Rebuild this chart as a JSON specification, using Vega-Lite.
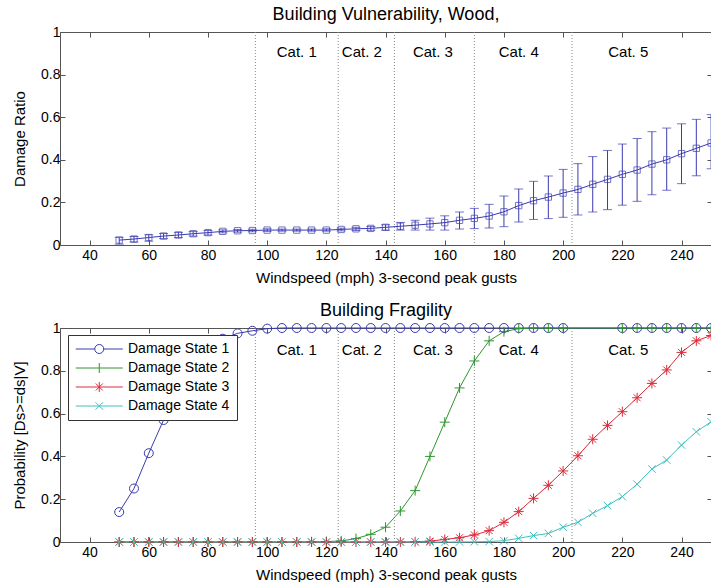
{
  "$schema": "https://vega.github.io/schema/vega-lite/v6.json",
  "padding": {"left": 12, "top": 6, "right": 0, "bottom": 0},
  "bounds": "flush",
  "spacing": 83,
  "resolve": {"scale": {"color": "independent"}, "legend": {"color": "independent"}},
  "config": {
    "font": "Liberation Sans",
    "view": {"stroke": null},
    "axis": {
      "grid": false, "domainColor": "#555", "tickColor": "#555", "tickSize": -5,
      "labelFont": "Liberation Sans", "labelFontSize": 14, "labelColor": "#000",
      "titleFont": "Liberation Sans", "titleFontSize": 15, "titleFontWeight": "normal", "titleColor": "#000"
    },
    "title": {"font": "Liberation Sans", "fontSize": 18, "fontWeight": "normal", "color": "#000", "offset": 1}
  },
  "datasets": {
    "cats": [{"b": 96}, {"b": 124}, {"b": 143}, {"b": 170}, {"b": 203}],
    "catlabels": [
      {"c": 110, "t": "Cat. 1"}, {"c": 132, "t": "Cat. 2"}, {"c": 156, "t": "Cat. 3"},
      {"c": 185, "t": "Cat. 4"}, {"c": 222, "t": "Cat. 5"}
    ],
    "vuln": [
      {"w": 50, "dr": 0.023, "lo": 0.004, "hi": 0.036},
      {"w": 55, "dr": 0.028, "lo": 0.014, "hi": 0.04},
      {"w": 60, "dr": 0.035, "lo": 0.018, "hi": 0.048},
      {"w": 65, "dr": 0.042, "lo": 0.03, "hi": 0.054},
      {"w": 70, "dr": 0.047, "lo": 0.035, "hi": 0.059},
      {"w": 75, "dr": 0.053, "lo": 0.042, "hi": 0.063},
      {"w": 80, "dr": 0.058, "lo": 0.047, "hi": 0.068},
      {"w": 85, "dr": 0.064, "lo": 0.057, "hi": 0.071},
      {"w": 90, "dr": 0.067, "lo": 0.06, "hi": 0.073},
      {"w": 95, "dr": 0.068, "lo": 0.062, "hi": 0.074},
      {"w": 100, "dr": 0.07, "lo": 0.064, "hi": 0.076},
      {"w": 105, "dr": 0.07, "lo": 0.065, "hi": 0.075},
      {"w": 110, "dr": 0.07, "lo": 0.065, "hi": 0.075},
      {"w": 115, "dr": 0.07, "lo": 0.065, "hi": 0.075},
      {"w": 120, "dr": 0.07, "lo": 0.065, "hi": 0.076},
      {"w": 125, "dr": 0.073, "lo": 0.066, "hi": 0.079},
      {"w": 130, "dr": 0.076, "lo": 0.068, "hi": 0.083},
      {"w": 135, "dr": 0.078, "lo": 0.069, "hi": 0.087},
      {"w": 140, "dr": 0.083, "lo": 0.07, "hi": 0.095},
      {"w": 145, "dr": 0.088, "lo": 0.07, "hi": 0.106},
      {"w": 150, "dr": 0.093, "lo": 0.07, "hi": 0.116},
      {"w": 155, "dr": 0.099, "lo": 0.07, "hi": 0.126},
      {"w": 160, "dr": 0.105, "lo": 0.07, "hi": 0.137},
      {"w": 165, "dr": 0.116, "lo": 0.075, "hi": 0.155},
      {"w": 170, "dr": 0.125, "lo": 0.077, "hi": 0.172},
      {"w": 175, "dr": 0.136, "lo": 0.08, "hi": 0.191},
      {"w": 180, "dr": 0.156, "lo": 0.086, "hi": 0.23},
      {"w": 185, "dr": 0.185, "lo": 0.108, "hi": 0.263},
      {"w": 190, "dr": 0.208, "lo": 0.12, "hi": 0.299},
      {"w": 195, "dr": 0.225, "lo": 0.124, "hi": 0.324},
      {"w": 200, "dr": 0.244, "lo": 0.13, "hi": 0.355},
      {"w": 205, "dr": 0.261, "lo": 0.141, "hi": 0.382},
      {"w": 210, "dr": 0.285, "lo": 0.155, "hi": 0.415},
      {"w": 215, "dr": 0.308, "lo": 0.166, "hi": 0.444},
      {"w": 220, "dr": 0.332, "lo": 0.187, "hi": 0.474},
      {"w": 225, "dr": 0.352, "lo": 0.205, "hi": 0.5},
      {"w": 230, "dr": 0.38, "lo": 0.236, "hi": 0.532},
      {"w": 235, "dr": 0.4, "lo": 0.257, "hi": 0.549},
      {"w": 240, "dr": 0.429, "lo": 0.288, "hi": 0.569},
      {"w": 245, "dr": 0.454, "lo": 0.325, "hi": 0.59},
      {"w": 250, "dr": 0.479, "lo": 0.358, "hi": 0.612}
    ],
    "frag": [
      {"w": 50, "s": "Damage State 1", "p": 0.14},
      {"w": 55, "s": "Damage State 1", "p": 0.25},
      {"w": 60, "s": "Damage State 1", "p": 0.415},
      {"w": 65, "s": "Damage State 1", "p": 0.57},
      {"w": 70, "s": "Damage State 1", "p": 0.72},
      {"w": 75, "s": "Damage State 1", "p": 0.83},
      {"w": 80, "s": "Damage State 1", "p": 0.9},
      {"w": 85, "s": "Damage State 1", "p": 0.95},
      {"w": 90, "s": "Damage State 1", "p": 0.975},
      {"w": 95, "s": "Damage State 1", "p": 0.987},
      {"w": 100, "s": "Damage State 1", "p": 0.997},
      {"w": 105, "s": "Damage State 1", "p": 1},
      {"w": 110, "s": "Damage State 1", "p": 1},
      {"w": 115, "s": "Damage State 1", "p": 1},
      {"w": 120, "s": "Damage State 1", "p": 1},
      {"w": 125, "s": "Damage State 1", "p": 1},
      {"w": 130, "s": "Damage State 1", "p": 1},
      {"w": 135, "s": "Damage State 1", "p": 1},
      {"w": 140, "s": "Damage State 1", "p": 1},
      {"w": 145, "s": "Damage State 1", "p": 1},
      {"w": 150, "s": "Damage State 1", "p": 1},
      {"w": 155, "s": "Damage State 1", "p": 1},
      {"w": 160, "s": "Damage State 1", "p": 1},
      {"w": 165, "s": "Damage State 1", "p": 1},
      {"w": 170, "s": "Damage State 1", "p": 1},
      {"w": 175, "s": "Damage State 1", "p": 1},
      {"w": 180, "s": "Damage State 1", "p": 1},
      {"w": 185, "s": "Damage State 1", "p": 1},
      {"w": 190, "s": "Damage State 1", "p": 1},
      {"w": 195, "s": "Damage State 1", "p": 1},
      {"w": 200, "s": "Damage State 1", "p": 1},
      {"w": 220, "s": "Damage State 1", "p": 1},
      {"w": 225, "s": "Damage State 1", "p": 1},
      {"w": 230, "s": "Damage State 1", "p": 1},
      {"w": 235, "s": "Damage State 1", "p": 1},
      {"w": 240, "s": "Damage State 1", "p": 1},
      {"w": 245, "s": "Damage State 1", "p": 1},
      {"w": 250, "s": "Damage State 1", "p": 1},
      {"w": 50, "s": "Damage State 2", "p": 0},
      {"w": 55, "s": "Damage State 2", "p": 0},
      {"w": 60, "s": "Damage State 2", "p": 0},
      {"w": 65, "s": "Damage State 2", "p": 0},
      {"w": 70, "s": "Damage State 2", "p": 0},
      {"w": 75, "s": "Damage State 2", "p": 0},
      {"w": 80, "s": "Damage State 2", "p": 0},
      {"w": 85, "s": "Damage State 2", "p": 0},
      {"w": 90, "s": "Damage State 2", "p": 0},
      {"w": 95, "s": "Damage State 2", "p": 0},
      {"w": 100, "s": "Damage State 2", "p": 0},
      {"w": 105, "s": "Damage State 2", "p": 0},
      {"w": 110, "s": "Damage State 2", "p": 0},
      {"w": 115, "s": "Damage State 2", "p": 0.001},
      {"w": 120, "s": "Damage State 2", "p": 0.002},
      {"w": 125, "s": "Damage State 2", "p": 0.005},
      {"w": 130, "s": "Damage State 2", "p": 0.016},
      {"w": 135, "s": "Damage State 2", "p": 0.036},
      {"w": 140, "s": "Damage State 2", "p": 0.069},
      {"w": 145, "s": "Damage State 2", "p": 0.145},
      {"w": 150, "s": "Damage State 2", "p": 0.24},
      {"w": 155, "s": "Damage State 2", "p": 0.4},
      {"w": 160, "s": "Damage State 2", "p": 0.56},
      {"w": 165, "s": "Damage State 2", "p": 0.72},
      {"w": 170, "s": "Damage State 2", "p": 0.846},
      {"w": 175, "s": "Damage State 2", "p": 0.94},
      {"w": 180, "s": "Damage State 2", "p": 0.983},
      {"w": 185, "s": "Damage State 2", "p": 0.997},
      {"w": 190, "s": "Damage State 2", "p": 1},
      {"w": 195, "s": "Damage State 2", "p": 1},
      {"w": 200, "s": "Damage State 2", "p": 1},
      {"w": 220, "s": "Damage State 2", "p": 1},
      {"w": 225, "s": "Damage State 2", "p": 1},
      {"w": 230, "s": "Damage State 2", "p": 1},
      {"w": 235, "s": "Damage State 2", "p": 1},
      {"w": 240, "s": "Damage State 2", "p": 1},
      {"w": 245, "s": "Damage State 2", "p": 1},
      {"w": 250, "s": "Damage State 2", "p": 1},
      {"w": 50, "s": "Damage State 3", "p": 0},
      {"w": 55, "s": "Damage State 3", "p": 0},
      {"w": 60, "s": "Damage State 3", "p": 0},
      {"w": 65, "s": "Damage State 3", "p": 0},
      {"w": 70, "s": "Damage State 3", "p": 0},
      {"w": 75, "s": "Damage State 3", "p": 0},
      {"w": 80, "s": "Damage State 3", "p": 0},
      {"w": 85, "s": "Damage State 3", "p": 0},
      {"w": 90, "s": "Damage State 3", "p": 0},
      {"w": 95, "s": "Damage State 3", "p": 0},
      {"w": 100, "s": "Damage State 3", "p": 0},
      {"w": 105, "s": "Damage State 3", "p": 0},
      {"w": 110, "s": "Damage State 3", "p": 0},
      {"w": 115, "s": "Damage State 3", "p": 0},
      {"w": 120, "s": "Damage State 3", "p": 0},
      {"w": 125, "s": "Damage State 3", "p": 0},
      {"w": 130, "s": "Damage State 3", "p": 0},
      {"w": 135, "s": "Damage State 3", "p": 0},
      {"w": 140, "s": "Damage State 3", "p": 0},
      {"w": 145, "s": "Damage State 3", "p": 0},
      {"w": 150, "s": "Damage State 3", "p": 0.001},
      {"w": 155, "s": "Damage State 3", "p": 0.004},
      {"w": 160, "s": "Damage State 3", "p": 0.012},
      {"w": 165, "s": "Damage State 3", "p": 0.02},
      {"w": 170, "s": "Damage State 3", "p": 0.033},
      {"w": 175, "s": "Damage State 3", "p": 0.053},
      {"w": 180, "s": "Damage State 3", "p": 0.092},
      {"w": 185, "s": "Damage State 3", "p": 0.142},
      {"w": 190, "s": "Damage State 3", "p": 0.204},
      {"w": 195, "s": "Damage State 3", "p": 0.265},
      {"w": 200, "s": "Damage State 3", "p": 0.332},
      {"w": 205, "s": "Damage State 3", "p": 0.403},
      {"w": 210, "s": "Damage State 3", "p": 0.48},
      {"w": 215, "s": "Damage State 3", "p": 0.545},
      {"w": 220, "s": "Damage State 3", "p": 0.609},
      {"w": 225, "s": "Damage State 3", "p": 0.674},
      {"w": 230, "s": "Damage State 3", "p": 0.741},
      {"w": 235, "s": "Damage State 3", "p": 0.804},
      {"w": 240, "s": "Damage State 3", "p": 0.886},
      {"w": 245, "s": "Damage State 3", "p": 0.94},
      {"w": 250, "s": "Damage State 3", "p": 0.965},
      {"w": 50, "s": "Damage State 4", "p": 0},
      {"w": 55, "s": "Damage State 4", "p": 0},
      {"w": 60, "s": "Damage State 4", "p": 0},
      {"w": 65, "s": "Damage State 4", "p": 0},
      {"w": 70, "s": "Damage State 4", "p": 0},
      {"w": 75, "s": "Damage State 4", "p": 0},
      {"w": 80, "s": "Damage State 4", "p": 0},
      {"w": 85, "s": "Damage State 4", "p": 0},
      {"w": 90, "s": "Damage State 4", "p": 0},
      {"w": 95, "s": "Damage State 4", "p": 0},
      {"w": 100, "s": "Damage State 4", "p": 0},
      {"w": 105, "s": "Damage State 4", "p": 0},
      {"w": 110, "s": "Damage State 4", "p": 0},
      {"w": 115, "s": "Damage State 4", "p": 0},
      {"w": 120, "s": "Damage State 4", "p": 0},
      {"w": 125, "s": "Damage State 4", "p": 0},
      {"w": 130, "s": "Damage State 4", "p": 0},
      {"w": 135, "s": "Damage State 4", "p": 0},
      {"w": 140, "s": "Damage State 4", "p": 0},
      {"w": 145, "s": "Damage State 4", "p": 0},
      {"w": 150, "s": "Damage State 4", "p": 0},
      {"w": 155, "s": "Damage State 4", "p": 0},
      {"w": 160, "s": "Damage State 4", "p": 0},
      {"w": 165, "s": "Damage State 4", "p": 0},
      {"w": 170, "s": "Damage State 4", "p": 0.001},
      {"w": 175, "s": "Damage State 4", "p": 0.002},
      {"w": 180, "s": "Damage State 4", "p": 0.006},
      {"w": 185, "s": "Damage State 4", "p": 0.017},
      {"w": 190, "s": "Damage State 4", "p": 0.03},
      {"w": 195, "s": "Damage State 4", "p": 0.04},
      {"w": 200, "s": "Damage State 4", "p": 0.069},
      {"w": 205, "s": "Damage State 4", "p": 0.092},
      {"w": 210, "s": "Damage State 4", "p": 0.134},
      {"w": 215, "s": "Damage State 4", "p": 0.17},
      {"w": 220, "s": "Damage State 4", "p": 0.212},
      {"w": 225, "s": "Damage State 4", "p": 0.27},
      {"w": 230, "s": "Damage State 4", "p": 0.341},
      {"w": 235, "s": "Damage State 4", "p": 0.383},
      {"w": 240, "s": "Damage State 4", "p": 0.453},
      {"w": 245, "s": "Damage State 4", "p": 0.515},
      {"w": 250, "s": "Damage State 4", "p": 0.562}
    ]
  },
  "vconcat": [
    {
      "title": {"text": "Building Vulnerability, Wood,"},
      "width": 652,
      "height": 213,
      "resolve": {"axis": {"x": "independent", "y": "independent"}},
      "layer": [
        {
          "data": {"name": "cats"},
          "mark": {"type": "rule", "color": "#888", "strokeDash": [1, 2], "strokeWidth": 1},
          "encoding": {
            "x": {"field": "b", "type": "quantitative", "scale": {"domain": [30, 250.3], "nice": false, "zero": false}, "axis": null}
          }
        },
        {
          "data": {"name": "catlabels"},
          "mark": {"type": "text", "fontSize": 15, "font": "Liberation Sans", "color": "#000", "baseline": "middle", "align": "center"},
          "encoding": {
            "x": {"field": "c", "type": "quantitative", "scale": {"domain": [30, 250.3], "nice": false, "zero": false}, "axis": null},
            "y": {"datum": 0.905, "type": "quantitative", "scale": {"domain": [0, 1], "nice": false}, "axis": null},
            "text": {"field": "t"}
          }
        },
        {
          "data": {"name": "vuln"},
          "mark": {"type": "rule", "color": "#3a3ab0", "strokeWidth": 1},
          "encoding": {
            "x": {"field": "w", "type": "quantitative", "scale": {"domain": [30, 250.3], "nice": false, "zero": false}, "axis": null},
            "y": {"field": "lo", "type": "quantitative", "scale": {"domain": [0, 1], "nice": false}, "axis": null},
            "y2": {"field": "hi"}
          }
        },
        {
          "data": {"name": "vuln"},
          "mark": {"type": "tick", "orient": "horizontal", "color": "#3a3ab0", "size": 9, "thickness": 1},
          "encoding": {
            "x": {"field": "w", "type": "quantitative", "scale": {"domain": [30, 250.3], "nice": false, "zero": false}, "axis": null},
            "y": {"field": "lo", "type": "quantitative", "scale": {"domain": [0, 1], "nice": false}, "axis": null}
          }
        },
        {
          "data": {"name": "vuln"},
          "mark": {"type": "tick", "orient": "horizontal", "color": "#3a3ab0", "size": 9, "thickness": 1},
          "encoding": {
            "x": {"field": "w", "type": "quantitative", "scale": {"domain": [30, 250.3], "nice": false, "zero": false}, "axis": null},
            "y": {"field": "hi", "type": "quantitative", "scale": {"domain": [0, 1], "nice": false}, "axis": null}
          }
        },
        {
          "data": {"name": "vuln"},
          "mark": {"type": "line", "color": "#3a3ab0", "strokeWidth": 1},
          "encoding": {
            "x": {"field": "w", "type": "quantitative", "scale": {"domain": [30, 250.3], "nice": false, "zero": false},
              "axis": {"orient": "bottom", "values": [40, 60, 80, 100, 120, 140, 160, 180, 200, 220, 240], "title": "Windspeed (mph) 3-second peak gusts", "labelPadding": 8, "titlePadding": 8}},
            "y": {"field": "dr", "type": "quantitative", "scale": {"domain": [0, 1], "nice": false},
              "axis": {"orient": "left", "values": [0, 0.2, 0.4, 0.6, 0.8, 1], "format": "~g", "title": "Damage Ratio", "labelPadding": 5, "minExtent": 30, "maxExtent": 30, "titlePadding": 3}}
          }
        },
        {
          "data": {"name": "vuln"},
          "mark": {"type": "point", "shape": "square", "filled": false, "size": 40, "color": "#3a3ab0", "strokeWidth": 1},
          "encoding": {
            "x": {"field": "w", "type": "quantitative", "scale": {"domain": [30, 250.3], "nice": false, "zero": false},
              "axis": {"orient": "top", "values": [40, 60, 80, 100, 120, 140, 160, 180, 200, 220, 240], "labels": false, "title": null}},
            "y": {"field": "dr", "type": "quantitative", "scale": {"domain": [0, 1], "nice": false},
              "axis": {"orient": "right", "values": [0, 0.2, 0.4, 0.6, 0.8, 1], "labels": false, "title": null}}
          }
        }
      ]
    },
    {
      "title": {"text": "Building Fragility"},
      "width": 652,
      "height": 214,
      "resolve": {"axis": {"x": "independent", "y": "independent"}},
      "layer": [
        {
          "data": {"name": "cats"},
          "mark": {"type": "rule", "color": "#888", "strokeDash": [1, 2], "strokeWidth": 1},
          "encoding": {
            "x": {"field": "b", "type": "quantitative", "scale": {"domain": [30, 250.3], "nice": false, "zero": false}, "axis": null}
          }
        },
        {
          "data": {"name": "catlabels"},
          "mark": {"type": "text", "fontSize": 15, "font": "Liberation Sans", "color": "#000", "baseline": "middle", "align": "center"},
          "encoding": {
            "x": {"field": "c", "type": "quantitative", "scale": {"domain": [30, 250.3], "nice": false, "zero": false}, "axis": null},
            "y": {"datum": 0.897, "type": "quantitative", "scale": {"domain": [0, 1], "nice": false}, "axis": null},
            "text": {"field": "t"}
          }
        },
        {
          "data": {"name": "frag"},
          "mark": {"type": "line", "strokeWidth": 1},
          "encoding": {
            "x": {"field": "w", "type": "quantitative", "scale": {"domain": [30, 250.3], "nice": false, "zero": false},
              "axis": {"orient": "bottom", "values": [40, 60, 80, 100, 120, 140, 160, 180, 200, 220, 240], "title": "Windspeed (mph) 3-second peak gusts", "labelPadding": 8, "titlePadding": 8}},
            "y": {"field": "p", "type": "quantitative", "scale": {"domain": [0, 1], "nice": false},
              "axis": {"orient": "left", "values": [0, 0.2, 0.4, 0.6, 0.8, 1], "format": "~g", "title": "Probability [Ds>=ds|V]", "labelPadding": 5, "minExtent": 30, "maxExtent": 30, "titlePadding": 3}},
            "color": {"field": "s", "type": "nominal",
              "scale": {"domain": ["Damage State 1", "Damage State 2", "Damage State 3", "Damage State 4"], "range": ["#3a3ab0", "#2e962e", "#dd2a3a", "#3ec0c0"]},
              "legend": {
                "title": null, "orient": "none", "legendX": 8, "legendY": 7,
                "strokeColor": "#333", "fillColor": "white", "padding": 7,
                "labelFont": "Liberation Sans", "labelFontSize": 14, "labelColor": "#000",
                "symbolSize": 100, "labelOffset": 39, "rowPadding": 5, "symbolStrokeWidth": 1,
                "encode": {
                  "symbols": {
                    "update": {
                      "shape": {"signal": "datum.value == 'Damage State 1' ? 'M-1.25,0H2.55M4.35,0H8.15M4.35,0A0.9,0.9 0 1,1 2.55,0A0.9,0.9 0 1,1 4.35,0' : datum.value == 'Damage State 2' ? 'M-1.25,0H8.15M3.45,-1V1' : datum.value == 'Damage State 3' ? 'M-1.25,0H8.15M3.45,-1V1M2.75,-0.7L4.15,0.7M2.75,0.7L4.15,-0.7' : 'M-1.25,0H8.15M2.7,-0.75L4.2,0.75M2.7,0.75L4.2,-0.75'"},
                      "fill": {"value": "transparent"},
                      "strokeWidth": {"value": 1}
                    }
                  }
                }
              }
            }
          }
        },
        {
          "data": {"name": "frag"},
          "mark": {"type": "point", "filled": false, "size": 100, "strokeWidth": 1, "opacity": 1,
            "shape": {"expr": "datum.s == 'Damage State 1' ? 'M0.9,0A0.9,0.9 0 1,1 -0.9,0A0.9,0.9 0 1,1 0.9,0Z' : datum.s == 'Damage State 2' ? 'M-1,0H1M0,-1V1' : datum.s == 'Damage State 3' ? 'M-1,0H1M0,-1V1M-0.7,-0.7L0.7,0.7M-0.7,0.7L0.7,-0.7' : 'M-0.75,-0.75L0.75,0.75M-0.75,0.75L0.75,-0.75'"}},
          "encoding": {
            "x": {"field": "w", "type": "quantitative", "scale": {"domain": [30, 250.3], "nice": false, "zero": false},
              "axis": {"orient": "top", "values": [40, 60, 80, 100, 120, 140, 160, 180, 200, 220, 240], "labels": false, "title": null}},
            "y": {"field": "p", "type": "quantitative", "scale": {"domain": [0, 1], "nice": false},
              "axis": {"orient": "right", "values": [0, 0.2, 0.4, 0.6, 0.8, 1], "labels": false, "title": null}},
            "color": {"field": "s", "type": "nominal",
              "scale": {"domain": ["Damage State 1", "Damage State 2", "Damage State 3", "Damage State 4"], "range": ["#3a3ab0", "#2e962e", "#dd2a3a", "#3ec0c0"]}}
          }
        }
      ]
    }
  ]
}
